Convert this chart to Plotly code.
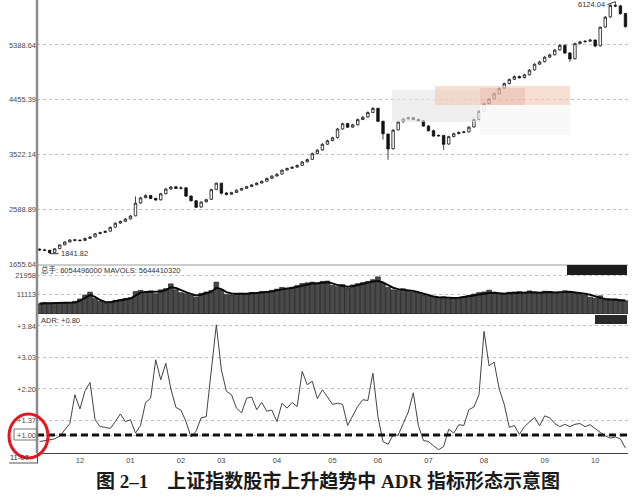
import plotly.graph_objects as go

# ---------------- data ----------------
price_open = [1920,1905,1900,1862,1928,1992,2042,2078,2072,2068,
              2102,2128,2182,2202,2225,2292,2362,2392,2432,2485,
              2705,2795,2832,2782,2758,2862,2942,2978,2952,2962,
              2822,2742,2635,2722,2765,2935,3040,2872,2852,2882,
              2922,2952,2982,3012,3042,3072,3122,3162,3195,3262,
              3292,3312,3342,3402,3445,3542,3605,3702,3765,3815,
              3962,4052,3992,4032,4122,4165,4242,4312,4092,3875,
              3625,3945,4082,4132,4152,4122,4102,4012,3932,3842,
              3852,3705,3832,3882,3902,3912,3995,4122,4265,4392,
              4475,4562,4655,4732,4805,4852,4832,4882,4965,5062,
              5105,5182,5222,5305,5382,5252,5155,5412,5442,5452,
              5472,5375,5692,5865,6062,6052,5922]
price_high = [1930,1925,1905,1935,2000,2055,2090,2090,2085,2115,
              2140,2195,2215,2240,2305,2375,2405,2450,2500,2815,
              2810,2850,2840,2790,2875,2960,2995,2990,2985,2970,
              2830,2750,2730,2775,2945,3050,3045,2890,2895,2935,
              2965,2995,3025,3055,3085,3135,3175,3210,3275,3305,
              3325,3360,3415,3460,3560,3620,3720,3780,3830,3980,
              4070,4065,4050,4140,4180,4260,4335,4320,4100,3880,
              3960,4100,4150,4170,4165,4140,4110,4030,3950,3870,
              3860,3845,3900,3920,3925,4010,4140,4280,4410,4490,
              4580,4670,4750,4820,4870,4870,4900,4980,5080,5120,
              5200,5240,5320,5400,5395,5270,5430,5460,5470,5490,
              5480,5700,5880,6080,6124,6070,5930]
price_low = [1895,1885,1842,1858,1920,1985,2035,2055,2050,2060,
             2095,2120,2175,2195,2215,2285,2350,2385,2425,2480,
             2690,2780,2770,2740,2745,2850,2930,2940,2935,2810,
             2730,2620,2625,2715,2755,2920,2850,2830,2845,2875,
             2915,2945,2975,3005,3035,3065,3115,3155,3185,3255,
             3285,3305,3335,3395,3435,3530,3590,3690,3750,3800,
             3950,3980,3980,4020,4110,4150,4230,4080,3780,3437,
             3610,3935,4070,4120,4110,4090,4000,3920,3830,3830,
             3607,3690,3820,3870,3890,3900,3985,4110,4250,4380,
             4460,4550,4640,4720,4790,4820,4820,4870,4950,5050,
             5090,5170,5210,5290,5240,5100,5140,5400,5430,5440,
             5350,5360,5680,5850,6030,5900,5680]
price_close = [1905,1900,1860,1925,1990,2040,2075,2070,2065,2100,
               2125,2180,2200,2220,2290,2360,2390,2430,2480,2700,
               2790,2830,2780,2755,2860,2940,2975,2950,2960,2820,
               2740,2630,2720,2760,2930,3040,2870,2850,2880,2920,
               2950,2980,3010,3040,3070,3120,3160,3190,3260,3290,
               3310,3340,3400,3440,3540,3600,3700,3760,3810,3960,
               4050,3990,4030,4120,4160,4240,4310,4090,3880,3620,
               3940,4080,4130,4150,4120,4100,4010,3930,3840,3850,
               3700,3830,3880,3900,3910,3990,4120,4260,4390,4470,
               4560,4650,4730,4800,4850,4830,4880,4960,5060,5100,
               5180,5220,5300,5380,5250,5150,5410,5440,5450,5470,
               5370,5690,5860,6060,6050,5920,5700]
volume = [5800,6500,5900,6400,6000,6600,6100,7200,8600,10800,
          12500,8800,7200,6400,6900,7800,8200,8900,9300,12800,
          13500,11800,13200,11600,13800,14500,17200,13800,12200,11600,
          10800,9600,11800,12600,13400,18200,13800,11200,10900,11200,
          11800,11400,12300,11900,12800,12600,13500,14200,15200,14100,
          15300,16200,17400,17800,18200,17200,18600,18800,16400,15600,
          16800,14800,16600,17300,17900,18600,19600,21200,17600,15200,
          13800,13600,14400,13200,12600,11800,10900,10200,9400,9100,
          9800,8600,9200,9400,9800,10600,11400,12200,12600,13600,
          12400,11200,11800,12400,12600,12800,12100,13200,12000,11800,
          13000,12900,11800,12400,13300,12800,11900,11200,10800,9600,
          9000,10400,8200,8000,8600,7400,7600]
mavol = [6000,6100,6200,6200,6100,6200,6300,6600,7500,9000,
         10800,9800,8000,6900,6700,7300,7800,8300,8800,10500,
         12200,12500,12600,12400,12800,13600,15200,14800,13500,12500,
         11500,10600,11000,11700,12600,15000,14200,12500,11700,11500,
         11400,11600,11800,12000,12200,12400,12800,13500,14200,14500,
         14800,15400,16300,17000,17400,17600,17900,18100,17500,16500,
         16000,15500,15800,16500,17200,17800,18500,18800,18000,16500,
         15000,14200,14000,13800,13200,12400,11500,10800,10000,9500,
         9300,9200,9100,9300,9600,10000,10600,11200,11700,12000,
         12100,11800,11600,11800,12000,12200,12300,12600,12400,12200,
         12400,12600,12300,12200,12500,12700,12400,12000,11600,11000,
         10000,9200,8600,8300,8000,7800,7700]
adr = [0.83,0.85,0.87,0.90,0.97,1.15,1.30,2.05,1.68,2.15,
       2.37,1.40,1.22,1.20,1.17,1.35,1.55,1.35,1.40,1.05,
       1.25,1.85,1.96,2.96,2.44,2.87,2.20,1.72,1.65,1.35,
       0.95,1.10,1.45,1.48,2.60,3.87,2.70,2.14,2.05,1.70,
       1.58,1.96,1.99,1.66,1.85,1.62,1.65,1.35,1.83,1.70,
       1.85,1.74,2.66,2.31,2.40,1.95,2.18,2.00,1.80,1.83,
       1.80,1.25,1.50,1.75,1.92,1.90,2.61,1.48,0.83,0.76,
       1.00,1.00,1.30,1.60,2.10,1.25,0.86,0.83,0.72,0.62,
       0.70,1.15,1.05,1.27,1.25,1.66,1.73,2.05,3.70,2.80,
       2.90,2.20,1.80,1.20,1.25,1.02,1.22,1.35,1.46,1.24,
       1.50,1.45,1.30,1.22,1.28,1.22,1.28,1.30,1.22,1.27,
       1.16,1.07,0.98,0.92,0.95,0.90,0.66]

month_start_index = [8, 18, 28, 36, 47, 58, 67, 77, 88, 100, 110]
month_labels = ["12", "01", "02", "03", "04", "05", "06", "07", "08", "09", "10"]
price_ticks = [1655.64, 2588.89, 3522.14, 4455.39, 5388.64]
volume_ticks = [11113, 21958]
adr_ticks = [1.00, 1.37, 2.20, 3.03, 3.84]
adr_baseline = 1.00
low_label = "1841.82"
high_label = "6124.04"
vol_header = "总手: 6054496000 MAVOLS: 5644410320"
adr_header = "ADR: +0.80"
title_text = "图 2–1　上证指数股市上升趋势中 ADR 指标形态示意图"

bar_index = list(range(len(price_close)))
low_bar = price_low.index(min(price_low))
high_bar = price_high.index(max(price_high))

# ---------------- geometry ----------------
W, H = 642, 503
ML, MR, MT, MB = 37, 14, 0, 50
PW = W - ML - MR
PH = H - MT - MB


def px_x(px):
    return (px - ML) / PW


def px_y(py):
    return (H - MB - py) / PH


TICKFONT = dict(family="Liberation Sans, Noto Sans CJK SC", size=7.5, color="#4a4a4a")
GRID = dict(showgrid=True, gridcolor="#c2c2c2", griddash="dot", gridwidth=1,
            zeroline=False, ticks="", automargin=False)

fig = go.Figure()

fig.add_trace(go.Candlestick(
    x=bar_index, open=price_open, high=price_high, low=price_low, close=price_close,
    xaxis="x", yaxis="y",
    increasing=dict(line=dict(color="#111", width=0.8), fillcolor="white"),
    decreasing=dict(line=dict(color="#111", width=0.8), fillcolor="#111"),
    whiskerwidth=0, showlegend=False, hoverinfo="skip"))

fig.add_trace(go.Bar(
    x=bar_index, y=volume, xaxis="x", yaxis="y2",
    marker=dict(color="#4a4a4a", line=dict(color="#151515", width=0.6)),
    showlegend=False, hoverinfo="skip"))

fig.add_trace(go.Scatter(
    x=bar_index, y=mavol, xaxis="x", yaxis="y2", mode="lines",
    line=dict(color="#0a0a0a", width=2), showlegend=False, hoverinfo="skip"))

fig.add_trace(go.Scatter(
    x=bar_index, y=adr, xaxis="x", yaxis="y3", mode="lines",
    line=dict(color="#444444", width=1), showlegend=False, hoverinfo="skip"))

shapes = []
shapes.append(dict(type="line", xref="x", yref="y3", x0=-0.5, x1=len(price_close) - 0.5,
                   y0=adr_baseline, y1=adr_baseline,
                   line=dict(color="#111", width=3, dash="7px,4px")))
shapes.append(dict(type="line", xref="paper", yref="paper", x0=0, x1=0, y0=0, y1=1,
                   line=dict(color="#8c8c8c", width=2.5)))
shapes.append(dict(type="line", xref="paper", yref="paper", x0=0, x1=1,
                   y0=px_y(265), y1=px_y(265), line=dict(color="#9a9a9a", width=1)))
shapes.append(dict(type="rect", xref="paper", yref="paper", x0=px_x(567), x1=px_x(627),
                   y0=px_y(275), y1=px_y(265), fillcolor="#1c1c1c", line=dict(width=0)))
shapes.append(dict(type="rect", xref="paper", yref="paper", x0=px_x(595), x1=px_x(627),
                   y0=px_y(324), y1=px_y(315), fillcolor="#2a2a2a", line=dict(width=0)))
shapes.append(dict(type="rect", xref="paper", yref="paper", x0=px_x(392), x1=px_x(480),
                   y0=px_y(122), y1=px_y(90), fillcolor="rgba(228,228,228,0.6)", line=dict(width=0)))
shapes.append(dict(type="rect", xref="paper", yref="paper", x0=px_x(480), x1=px_x(570),
                   y0=px_y(135), y1=px_y(105), fillcolor="rgba(248,248,248,0.9)", line=dict(width=0)))
shapes.append(dict(type="rect", xref="paper", yref="paper", x0=px_x(435), x1=px_x(570),
                   y0=px_y(105), y1=px_y(86), fillcolor="rgba(242,200,182,0.6)", line=dict(width=0)))
shapes.append(dict(type="rect", xref="paper", yref="paper", x0=px_x(480), x1=px_x(525),
                   y0=px_y(105), y1=px_y(88), fillcolor="rgba(226,170,150,0.35)", line=dict(width=0)))
shapes.append(dict(type="rect", xref="paper", yref="paper", x0=px_x(14), x1=px_x(37),
                   y0=px_y(440), y1=px_y(429), line=dict(color="#777", width=1)))
shapes.append(dict(type="line", xref="paper", yref="paper", x0=px_x(9), x1=px_x(38),
                   y0=px_y(463), y1=px_y(463), line=dict(color="#555", width=1)))
shapes.append(dict(type="line", xref="paper", yref="paper", x0=px_x(37.5), x1=px_x(37.5),
                   y0=px_y(463), y1=px_y(454), line=dict(color="#555", width=1)))
shapes.append(dict(type="circle", xref="paper", yref="paper", x0=px_x(9), x1=px_x(48),
                   y0=px_y(458), y1=px_y(414), line=dict(color="#e3161d", width=3)))

small = dict(family="Liberation Sans, Noto Sans CJK SC", size=7.5, color="#333")
annotations = [
    dict(x=low_bar, y=price_low[low_bar], xref="x", yref="y", text=low_label,
         showarrow=True, arrowhead=0, arrowwidth=1, arrowcolor="#333", ax=9, ay=0,
         xanchor="left", standoff=0, font=small),
    dict(x=high_bar, y=price_high[high_bar], xref="x", yref="y", text=high_label,
         showarrow=True, arrowhead=0, arrowwidth=1, arrowcolor="#333", ax=-8, ay=3,
         xanchor="right", standoff=0, font=small),
    dict(x=px_x(39), y=px_y(269.5), xref="paper", yref="paper", text=vol_header,
         showarrow=False, xanchor="left", yanchor="middle", font=small),
    dict(x=px_x(39), y=px_y(320.5), xref="paper", yref="paper", text=adr_header,
         showarrow=False, xanchor="left", yanchor="middle", font=small),
    dict(x=px_x(19), y=px_y(457.5), xref="paper", yref="paper", text="11-07",
         showarrow=False, xanchor="center", yanchor="middle", font=small),
    dict(x=px_x(328), y=px_y(481), xref="paper", yref="paper", text="<b>" + title_text + "</b>",
         showarrow=False, xanchor="center", yanchor="middle",
         font=dict(family="Liberation Serif, Noto Sans CJK SC", size=19, color="#1a1a1a")),
]

fig.update_layout(
    width=W, height=H,
    margin=dict(l=ML, r=MR, t=MT, b=MB, autoexpand=False),
    paper_bgcolor="white", plot_bgcolor="white",
    bargap=0.06,
    showlegend=False,
    xaxis=dict(domain=[0, 1], anchor="y3", range=[-0.5, len(price_close) - 0.5],
               tickvals=month_start_index, ticktext=month_labels, tickfont=TICKFONT,
               showline=True, linecolor="#444", linewidth=1, showgrid=False,
               zeroline=False, ticks="", automargin=False, rangeslider=dict(visible=False)),
    yaxis=dict(domain=[px_y(265), 1], range=[1650, 6152], tickvals=price_ticks,
               ticktext=["%.2f" % v for v in price_ticks], tickfont=TICKFONT, **GRID),
    yaxis2=dict(domain=[px_y(314), px_y(265)], range=[0, 27980], tickvals=volume_ticks,
                ticktext=[str(v) for v in volume_ticks], tickfont=TICKFONT, **GRID),
    yaxis3=dict(domain=[0, px_y(316)], range=[0.533, 4.10], tickvals=adr_ticks,
                ticktext=["+%.2f" % v for v in adr_ticks], tickfont=TICKFONT, **GRID),
    shapes=shapes,
    annotations=annotations,
)

fig.write_html(
    "out.html",
    config={"displayModeBar": False, "staticPlot": True},
    post_script="document.body.style.margin='0';document.body.style.padding='0';"
                "document.body.style.overflow='hidden';",
)
